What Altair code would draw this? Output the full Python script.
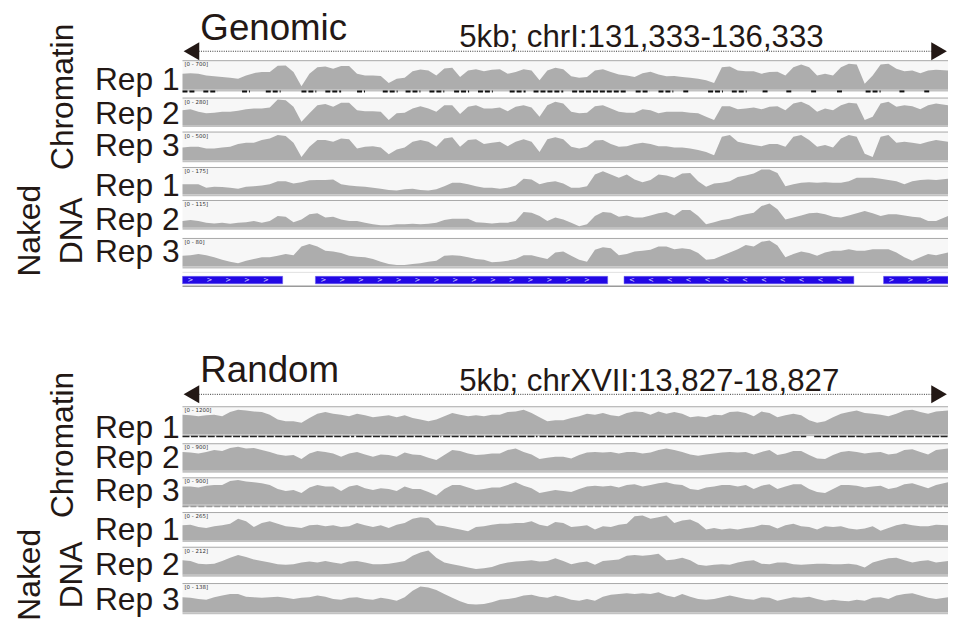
import altair as alt
import pandas as pd

# ---------------- data ----------------
# sample positions, bp from the left end of each 5 kb window
POS_BP = [0, 52, 104, 155, 207, 259, 311, 363, 415, 466, 518, 570, 622, 674, 725, 777, 829, 881, 933, 984,
          1036, 1088, 1140, 1192, 1244, 1295, 1347, 1399, 1451, 1503, 1554, 1606, 1658, 1710, 1762, 1813, 1865,
          1917, 1969, 2021, 2073, 2124, 2176, 2228, 2280, 2332, 2383, 2435, 2487, 2539, 2591, 2642, 2694, 2746,
          2798, 2850, 2902, 2953, 3005, 3057, 3109, 3161, 3212, 3264, 3316, 3368, 3420, 3472, 3523, 3575, 3627,
          3679, 3731, 3782, 3834, 3886, 3938, 3990, 4041, 4093, 4145, 4197, 4249, 4301, 4352, 4404, 4456, 4508,
          4560, 4611, 4663, 4715, 4767, 4819, 4870, 4922, 5000]

# signal, in percent of each track's data range
G_CHR1 = [56, 58, 56, 50, 47, 44, 42, 38, 50, 58, 62, 62, 84, 85, 62, 12, 56, 79, 81, 73, 83, 83, 56, 50, 50, 48,
          23, 38, 42, 65, 71, 67, 50, 74, 77, 44, 67, 72, 65, 70, 72, 56, 62, 72, 67, 33, 67, 77, 72,
          47, 42, 44, 67, 72, 62, 53, 50, 44, 58, 63, 53, 47, 48, 44, 42, 38, 33, 23, 79, 81, 67, 65, 65, 56, 62,
          63, 50, 79, 88, 79, 50, 56, 50, 79, 91, 88, 21, 50, 88, 91, 73, 65, 67, 58, 67, 70, 67]
G_CHR2 = [56, 59, 50, 44, 46, 50, 50, 54, 59, 62, 62, 66, 96, 94, 69, 12, 44, 75, 79, 69, 84, 84, 56, 52, 52, 50,
          19, 44, 46, 62, 71, 62, 50, 75, 75, 41, 69, 75, 62, 62, 66, 52, 69, 75, 66, 31, 75, 88, 81,
          50, 44, 46, 71, 75, 62, 50, 46, 46, 59, 56, 44, 50, 50, 50, 46, 44, 31, 19, 71, 71, 59, 62, 66, 59, 69,
          71, 56, 81, 88, 75, 50, 62, 56, 75, 84, 81, 19, 31, 81, 88, 69, 75, 71, 59, 75, 81, 75]
G_CHR3 = [46, 49, 49, 43, 43, 46, 49, 59, 63, 63, 73, 79, 91, 88, 63, 12, 49, 73, 73, 67, 79, 76, 43, 49, 51, 46,
          22, 39, 46, 67, 73, 67, 49, 79, 83, 49, 73, 76, 59, 63, 67, 51, 67, 76, 67, 30, 76, 83, 76,
          49, 43, 49, 71, 73, 59, 49, 51, 59, 63, 59, 51, 51, 46, 46, 43, 37, 30, 18, 85, 91, 67, 61, 55, 51, 59,
          59, 49, 85, 91, 73, 49, 55, 46, 79, 91, 85, 24, 12, 85, 91, 63, 67, 63, 59, 67, 73, 67]
G_DNA1 = [38, 38, 38, 25, 29, 28, 25, 21, 29, 31, 34, 38, 50, 50, 41, 46, 53, 54, 54, 56, 38, 34, 31, 29, 25, 21,
          16, 15, 19, 21, 16, 15, 19, 31, 44, 44, 38, 31, 25, 25, 21, 25, 34, 59, 56, 38, 46, 50, 41,
          25, 25, 31, 75, 88, 75, 63, 75, 56, 46, 54, 75, 71, 63, 79, 81, 50, 29, 41, 44, 50, 66, 71, 79, 94, 94,
          81, 31, 38, 44, 46, 44, 46, 44, 44, 50, 63, 63, 63, 59, 54, 50, 38, 50, 54, 56, 54, 59]
G_DNA2 = [25, 29, 25, 19, 16, 19, 15, 19, 21, 25, 19, 25, 44, 41, 21, 31, 50, 54, 38, 41, 31, 25, 25, 19, 13, 9,
          9, 13, 13, 15, 13, 15, 19, 29, 34, 34, 34, 21, 19, 16, 19, 19, 25, 59, 56, 44, 25, 38, 31,
          19, 6, 13, 44, 59, 56, 41, 46, 38, 38, 46, 54, 59, 46, 66, 66, 44, 13, 21, 29, 34, 44, 50, 56, 81, 91,
          69, 31, 38, 46, 54, 56, 50, 41, 38, 46, 54, 63, 54, 44, 50, 50, 46, 41, 38, 25, 25, 44]
G_DNA3 = [39, 41, 45, 41, 33, 24, 17, 12, 21, 27, 33, 33, 39, 45, 41, 73, 82, 73, 57, 54, 49, 39, 35, 33, 27, 17,
          9, 5, 5, 9, 12, 17, 21, 39, 41, 39, 33, 27, 24, 15, 17, 21, 27, 41, 41, 33, 27, 51, 54,
          39, 24, 17, 61, 70, 66, 41, 45, 54, 57, 61, 73, 73, 63, 66, 63, 49, 24, 27, 39, 51, 63, 78, 73, 90, 94,
          76, 33, 45, 54, 49, 39, 51, 57, 57, 63, 57, 57, 63, 63, 63, 51, 33, 21, 33, 45, 41, 51]
R_CHR1 = [72, 70, 67, 70, 72, 67, 82, 91, 88, 84, 82, 72, 55, 48, 48, 43, 60, 76, 82, 76, 72, 67, 76, 70, 63, 67,
          70, 63, 70, 60, 55, 48, 55, 67, 79, 72, 67, 70, 67, 72, 72, 82, 84, 91, 79, 63, 48, 52, 52,
          60, 67, 76, 72, 79, 70, 67, 79, 84, 82, 72, 84, 76, 82, 76, 63, 67, 63, 72, 70, 82, 84, 79, 67, 84, 79,
          63, 70, 76, 70, 52, 43, 48, 63, 76, 82, 88, 79, 76, 72, 67, 76, 88, 91, 82, 76, 84, 88]
R_CHR2 = [71, 69, 65, 71, 78, 74, 86, 90, 84, 86, 78, 71, 61, 56, 59, 44, 65, 74, 71, 65, 53, 65, 71, 61, 53, 61,
          59, 53, 69, 61, 59, 49, 40, 59, 78, 74, 65, 59, 61, 65, 65, 78, 84, 71, 61, 44, 49, 53, 53,
          46, 59, 69, 71, 69, 71, 65, 71, 71, 65, 69, 78, 84, 78, 71, 61, 56, 61, 65, 69, 71, 69, 71, 61, 71, 78,
          59, 65, 74, 74, 59, 46, 44, 59, 71, 74, 71, 65, 69, 71, 61, 65, 78, 81, 71, 61, 78, 84]
R_CHR3 = [69, 69, 65, 72, 75, 75, 90, 94, 88, 85, 81, 75, 60, 52, 56, 44, 65, 75, 69, 69, 52, 69, 75, 62, 56, 62,
          60, 52, 69, 60, 60, 48, 35, 60, 75, 75, 65, 56, 60, 65, 65, 75, 85, 72, 62, 44, 50, 56, 52,
          48, 60, 69, 72, 69, 72, 65, 75, 78, 69, 75, 81, 85, 78, 75, 60, 56, 65, 69, 75, 75, 69, 75, 60, 72, 78,
          60, 69, 78, 78, 60, 48, 44, 60, 75, 75, 72, 65, 69, 72, 60, 65, 78, 81, 72, 62, 75, 85]
R_DNA1 = [55, 57, 48, 45, 51, 55, 60, 79, 70, 48, 63, 70, 60, 51, 48, 45, 55, 57, 51, 55, 48, 51, 63, 55, 48, 55,
          45, 57, 63, 79, 84, 82, 55, 51, 45, 39, 33, 48, 51, 57, 60, 60, 63, 63, 70, 57, 51, 67, 63,
          48, 51, 55, 39, 51, 48, 57, 60, 88, 91, 79, 84, 91, 63, 72, 76, 63, 39, 45, 39, 43, 39, 45, 48, 57, 55,
          43, 55, 60, 51, 48, 39, 51, 48, 51, 43, 39, 43, 51, 35, 45, 55, 60, 55, 51, 51, 57, 55]
R_DNA2 = [54, 51, 41, 39, 41, 51, 63, 73, 66, 57, 51, 45, 39, 37, 39, 45, 49, 45, 51, 45, 41, 49, 51, 45, 39, 39,
          41, 45, 51, 70, 82, 90, 63, 45, 39, 33, 27, 21, 24, 29, 39, 45, 49, 51, 54, 49, 51, 61, 51,
          39, 45, 49, 37, 51, 54, 57, 70, 73, 70, 73, 78, 54, 57, 63, 54, 37, 33, 37, 39, 37, 45, 51, 54, 41, 39,
          45, 45, 39, 37, 39, 41, 41, 39, 39, 41, 37, 27, 45, 54, 61, 63, 54, 45, 51, 54, 45, 51]
R_DNA3 = [53, 51, 47, 44, 53, 59, 65, 65, 55, 53, 51, 53, 55, 51, 47, 51, 53, 59, 55, 47, 44, 51, 53, 47, 44, 51,
          47, 41, 53, 76, 91, 88, 79, 65, 51, 39, 29, 27, 29, 35, 44, 47, 51, 59, 62, 55, 51, 59, 53,
          44, 41, 47, 41, 55, 62, 65, 67, 65, 67, 65, 71, 59, 53, 65, 55, 47, 44, 47, 53, 59, 53, 47, 44, 53, 51,
          41, 47, 53, 51, 55, 47, 41, 44, 41, 39, 44, 41, 51, 53, 47, 59, 65, 67, 59, 51, 47, 53]

TRACK_VALUES = [G_CHR1, G_CHR2, G_CHR3, G_DNA1, G_DNA2, G_DNA3,
                R_CHR1, R_CHR2, R_CHR3, R_DNA1, R_DNA2, R_DNA3]
RANGE_LABELS = ["[0 - 700]", "[0 - 280]", "[0 - 500]", "[0 - 175]", "[0 - 115]", "[0 - 80]",
                "[0 - 1200]", "[0 - 900]", "[0 - 900]", "[0 - 265]", "[0 - 212]", "[0 - 138]"]
REP_LABELS = ["Rep 1", "Rep 2", "Rep 3"] * 4

# gene annotation (genomic window)
GENE_START = [0, 868, 2884, 4579]
GENE_END = [654, 2777, 4385, 5000]
GENE_STRAND = [">", ">", "<", ">"]

# dashed calls under Chromatin Rep 1 (genomic window)
DASH_START = [0, 136, 389, 544, 777, 933, 1140, 1308, 1457, 1613, 1774, 1930, 2137, 2293, 2545, 2960, 3109,
              3271, 3433, 3588, 3789, 3944, 4106, 4275, 4462, 4683, 4845]
DASH_END = [78, 227, 440, 641, 874, 1036, 1192, 1405, 1554, 1710, 1872, 2027, 2241, 2487, 2902, 3051, 3206,
            3310, 3530, 3685, 3834, 3983, 4150, 4313, 4560, 4722, 4890]
# dashed calls under Chromatin Rep 1 (random window)
RDASH_START = [0, 1134, 1703, 2332, 4126]
RDASH_END = [1121, 1690, 2319, 4074, 5000]

PANEL_TITLES = ["Genomic", "Random"]
PANEL_LOCI = ["5kb; chrI:131,333-136,333", "5kb; chrXVII:13,827-18,827"]

# ---------------- layout (pixels) ----------------
X0, X1 = 176, 948
TRACK_TOP = [51, 88.7, 123, 158.7, 192, 230.3, 400, 437.3, 471.7, 506.7, 541.7, 578.3]
TRACK_BOTTOM = [79.7, 115.3, 151, 185.3, 219, 258, 427.3, 464, 498.3, 534, 569, 606.7]
LABEL_BASE = [80, 114, 147, 187, 221, 254, 431, 461, 495, 534, 569, 604]
TXT = "#231815"
FONT = "Liberation Sans"
GRAY = "#adadad"

one = pd.DataFrame({"a": [0]})
XS = alt.Scale(domain=[0, 5000], range=[X0, X1])

layers = []


def txt(text, x, y, size, align="left", angle=0, baseline="alphabetic", color=TXT, font=FONT):
    return alt.Chart(pd.DataFrame({"t": [text]})).mark_text(
        align=align, baseline=baseline, fontSize=size, font=font, color=color, angle=angle
    ).encode(x=alt.value(x), y=alt.value(y), text="t:N")


def hrule(y, color, width=1.0, x0=X0, x1=X1, dash=None):
    kw = dict(color=color, strokeWidth=width)
    if dash:
        kw["strokeDash"] = dash
    return alt.Chart(one).mark_rule(**kw).encode(x=alt.value(x0), x2=alt.value(x1), y=alt.value(y))


rows = []
for k, vals in enumerate(TRACK_VALUES):
    for p, v in zip(POS_BP, vals):
        rows.append({"track": k, "pos": p, "value": v})
sig = pd.DataFrame(rows)

for k in range(12):
    top, bot = TRACK_TOP[k], TRACK_BOTTOM[k]
    layers.append(alt.Chart(one).mark_rect(color="#f7f7f7").encode(
        x=alt.value(X0), x2=alt.value(X1), y=alt.value(top - 1), y2=alt.value(bot)))
    layers.append(hrule(top - 0.5, "#a8a8a8", 1))
    layers.append(alt.Chart(sig).transform_filter(alt.datum.track == k).mark_area(
        color=GRAY, interpolate="linear").encode(
        x=alt.X("pos:Q", scale=XS, axis=None),
        y=alt.Y("value:Q", scale=alt.Scale(domain=[0, 100], range=[bot, top]), axis=None)))
    layers.append(hrule(bot + 1, "#c2c2c2", 2))
    layers.append(txt(RANGE_LABELS[k], X0 + 2, top + 1, 5.5, baseline="top", color="#333333", font="DejaVu Sans"))
    layers.append(txt(REP_LABELS[k], 173, LABEL_BASE[k], 32, align="right"))

# dashed calls
gd = pd.DataFrame({"s": DASH_START, "e": DASH_END})
layers.append(alt.Chart(gd).mark_rule(color="#111111", strokeWidth=2, strokeDash=[5, 2]).encode(
    x=alt.X("s:Q", scale=XS, axis=None), x2="e:Q", y=alt.value(81.5)))
rd = pd.DataFrame({"s": RDASH_START, "e": RDASH_END})
layers.append(alt.Chart(rd).mark_rule(color="#222222", strokeWidth=1.5, strokeDash=[7, 1.5]).encode(
    x=alt.X("s:Q", scale=XS, axis=None), x2="e:Q", y=alt.value(429.5)))
layers.append(hrule(500, "#9a9a9a", 1.5, dash=[6, 2]))

# gene track
layers.append(hrule(264, "#e2e2e2", 1))
layers.append(hrule(278, "#9a9a9a", 1.5))
genes = pd.DataFrame({"s": GENE_START, "e": GENE_END, "strand": GENE_STRAND})
layers.append(alt.Chart(genes).mark_rect(color="#2208e4", stroke="#6a5cf0", strokeWidth=0.5).encode(
    x=alt.X("s:Q", scale=XS, axis=None), x2="e:Q", y=alt.value(268), y2=alt.value(275.5)))
chev = []
for s, e, st in zip(GENE_START, GENE_END, GENE_STRAND):
    p = s + 52
    while p < e - 25:
        chev.append({"p": p, "c": st})
        p += 123
layers.append(alt.Chart(pd.DataFrame(chev)).mark_text(
    color="#d8d8ff", fontSize=7, font="DejaVu Sans", baseline="middle").encode(
    x=alt.X("p:Q", scale=XS, axis=None), y=alt.value(271.8), text="c:N"))

# panel headers
for title, locus, ty, ly, ay in [(PANEL_TITLES[0], PANEL_LOCI[0], 30, 37, 41),
                                 (PANEL_TITLES[1], PANEL_LOCI[1], 375, 384, 387)]:
    layers.append(txt(title, 194, ty, 37))
    layers.append(txt(locus, 455, ly, 31.5))
    layers.append(hrule(ay, "#333333", 1, x0=190, x1=942, dash=[1, 1.3]))
    layers.append(alt.Chart(one).mark_point(shape="triangle-left", filled=True, size=330, color=TXT, opacity=1).encode(
        x=alt.value(185), y=alt.value(ay)))
    layers.append(alt.Chart(one).mark_point(shape="triangle-right", filled=True, size=330, color=TXT, opacity=1).encode(
        x=alt.value(939), y=alt.value(ay)))

# group labels
for cy, ny in [(87, 222), (438, 569)]:
    layers.append(txt("Chromatin", 56, cy, 32, align="center", angle=270, baseline="middle"))
    layers.append(txt("Naked", 22, ny, 32, align="center", angle=270, baseline="middle"))
    layers.append(txt("DNA", 65, ny, 32, align="center", angle=270, baseline="middle"))

chart = alt.layer(*layers).resolve_scale(y="independent").properties(
    width=948, height=618, autosize=alt.AutoSizeParams(type="none"), padding=0
).configure_view(stroke=None)

chart.save("out.html", embed_options={"renderer": "svg", "actions": False})
